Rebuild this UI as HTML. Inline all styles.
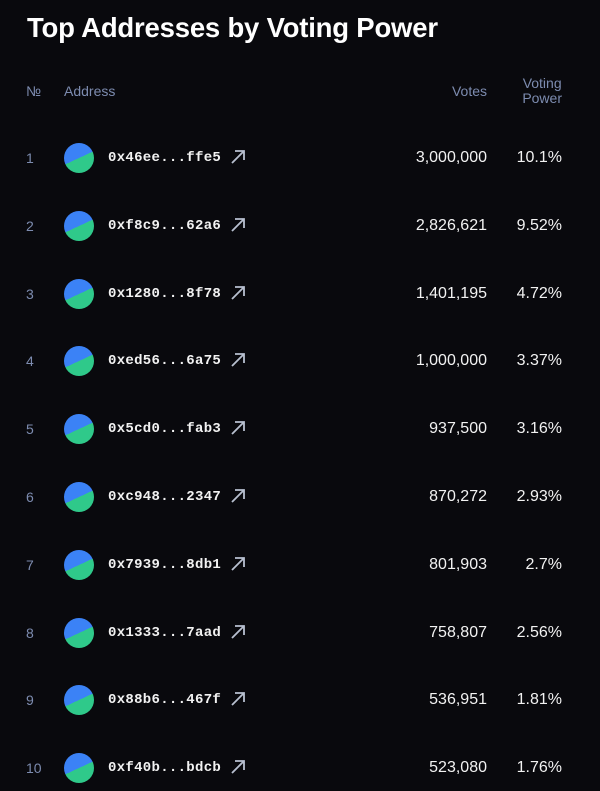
<!DOCTYPE html>
<html><head><meta charset="utf-8"><style>
body{margin:0;width:600px;height:791px;background:#09090d;overflow:hidden;font-family:"Liberation Sans",sans-serif;position:relative}
.t{position:absolute;left:27px;top:12px;color:#fff;font-size:27.5px;font-weight:bold;letter-spacing:-0.2px}
.h{position:absolute;color:#7d8cb0;font-size:14px}
.r{position:absolute;left:0;width:600px;height:30px}
.n{position:absolute;left:26px;top:7px;color:#7d8cb0;font-size:14px}
.av{position:absolute;left:64px;top:0;width:30px;height:30px;border-radius:50%;background:linear-gradient(155deg,#3b82f6 0,#3b82f6 50%,#2fc98a 50%,#2fc98a 100%)}
.a{position:absolute;left:108px;top:7px;color:#f2f2f2;font-family:"Liberation Mono",monospace;font-size:14px;font-weight:bold;letter-spacing:0.3px}
.ar{position:absolute;left:229px;top:5px}
.v{position:absolute;right:113px;top:6px;color:#f2f2f2;font-size:16px}
.p{position:absolute;right:38px;top:6px;color:#f2f2f2;font-size:16px}
</style></head><body>
<div class="t">Top Addresses by Voting Power</div>
<div class="h" style="left:26px;top:83px">№</div>
<div class="h" style="left:64px;top:83px">Address</div>
<div class="h" style="right:113px;top:83px">Votes</div>
<div class="h" style="right:38px;top:76px;text-align:center;line-height:15px">Voting<br>Power</div>
<div id="rows"></div>
<script>
const d=[["0x46ee...ffe5","3,000,000","10.1%"],["0xf8c9...62a6","2,826,621","9.52%"],["0x1280...8f78","1,401,195","4.72%"],["0xed56...6a75","1,000,000","3.37%"],["0x5cd0...fab3","937,500","3.16%"],["0xc948...2347","870,272","2.93%"],["0x7939...8db1","801,903","2.7%"],["0x1333...7aad","758,807","2.56%"],["0x88b6...467f","536,951","1.81%"],["0xf40b...bdcb","523,080","1.76%"]];
let h="";d.forEach((r,i)=>{const y=143+i*67.8;h+=`<div class="r" style="top:${y}px"><div class="n">${i+1}</div><div class="av"></div><div class="a">${r[0]}</div><svg class="ar" width="18" height="18" viewBox="0 0 18 18"><path d="M3 15L15 3M6 3H15V12" stroke="#b8c0d0" stroke-width="1.8" fill="none"/></svg><div class="v">${r[1]}</div><div class="p">${r[2]}</div></div>`});
document.getElementById("rows").innerHTML=h;
</script>
</body></html>
